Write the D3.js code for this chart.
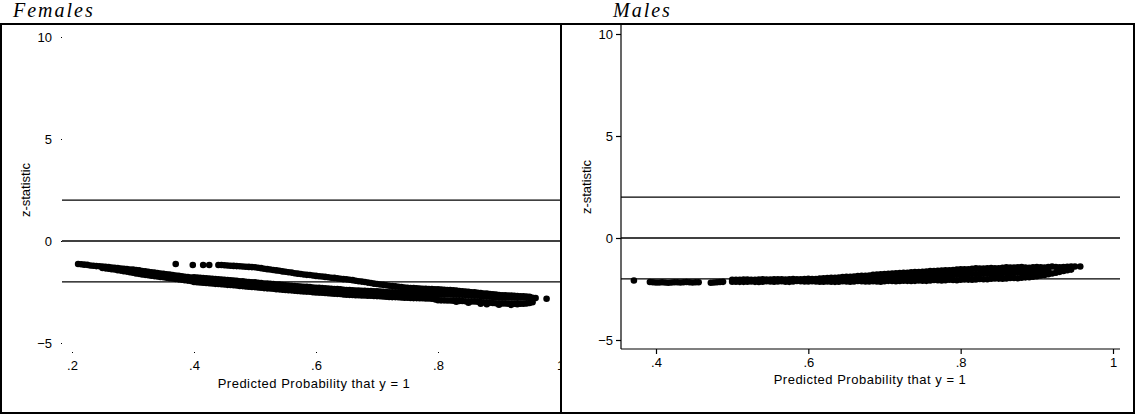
<!DOCTYPE html>
<html>
<head>
<meta charset="utf-8">
<script src="https://cdn.jsdelivr.net/npm/d3@7"></script>
<style>
  body { margin: 0; background: #fff; }
  text { font-family: "Liberation Sans", Arial, sans-serif; }
</style>
</head>
<body>
<script>
const W = 1135;
const H = 416;

// axis ticks and reference lines
const zTicks = [-5, 0, 5, 10];
const refLines = [2, 0, -2];
const femaleTicks = [0.2, 0.4, 0.6, 0.8, 1];
const maleTicks = [0.4, 0.6, 0.8, 1];

// Females: the long lower band, read as a top and a bottom row of dots
const femaleP = [
  .21,.215,.22,.225,.23,.235,.24,.245,.25,.255,
  .26,.265,.27,.275,.28,.285,.29,.295,.30,.305,
  .31,.315,.32,.325,.33,.335,.34,.345,.35,.355,
  .36,.365,.37,.375,.38,.385,.39,.395,.40,.405,
  .41,.415,.42,.425,.43,.435,.44,.445,.45,.455,
  .46,.465,.47,.475,.48,.485,.49,.495,.50,.505,
  .51,.515,.52,.525,.53,.535,.54,.545,.55,.555,
  .56,.565,.57,.575,.58,.585,.59,.595,.60,.605,
  .61,.615,.62,.625,.63,.635,.64,.645,.65,.655,
  .66,.665,.67,.675,.68,.685,.69,.695,.70,.705,
  .71,.715,.72,.725,.73,.735,.74,.745,.75,.755,
  .76,.765,.77,.775,.78,.785,.79,.795,.80,.805,
  .81,.815,.82,.825,.83,.835,.84,.845,.85,.855,
  .86,.865,.87,.875,.88,.885,.89,.895,.90,.905,
  .91,.915,.92,.925,.93,.935,.94,.945,.95,.955,
  .96];
const femaleLowerTop = [
  -1.13,-1.14,-1.16,-1.17,-1.20,-1.21,-1.23,-1.24,-1.25,-1.27,
  -1.28,-1.30,-1.31,-1.33,-1.35,-1.36,-1.38,-1.40,-1.40,-1.42,
  -1.44,-1.47,-1.49,-1.51,-1.53,-1.55,-1.57,-1.59,-1.61,-1.63,
  -1.65,-1.67,-1.69,-1.71,-1.73,-1.75,-1.77,-1.79,-1.78,-1.79,
  -1.80,-1.82,-1.83,-1.84,-1.85,-1.87,-1.88,-1.89,-1.90,-1.92,
  -1.93,-1.94,-1.95,-1.97,-1.98,-2.00,-2.01,-2.02,-2.03,-2.05,
  -2.06,-2.08,-2.09,-2.10,-2.11,-2.13,-2.14,-2.16,-2.17,-2.18,
  -2.19,-2.21,-2.22,-2.23,-2.24,-2.25,-2.26,-2.28,-2.29,-2.30,
  -2.31,-2.32,-2.33,-2.34,-2.35,-2.36,-2.37,-2.39,-2.40,-2.41,
  -2.42,-2.43,-2.43,-2.44,-2.44,-2.45,-2.45,-2.46,-2.47,-2.48,
  -2.49,-2.50,-2.51,-2.52,-2.52,-2.53,-2.54,-2.55,-2.55,-2.56,
  -2.57,-2.57,-2.58,-2.58,-2.59,-2.59,-2.60,-2.60,-2.60,-2.61,
  -2.61,-2.62,-2.62,-2.63,-2.63,-2.64,-2.64,-2.65,-2.65,-2.66,
  -2.67,-2.68,-2.69,-2.70,-2.71,-2.73,-2.74,-2.75,-2.76,-2.76,
  -2.76,-2.77,-2.77,-2.77,-2.76,-2.77,-2.77,-2.77,-2.76,-2.78,
  -2.80];
const femaleLowerBottom = [
  null,null,null,null,null,null,null,null,-1.32,-1.34,
  -1.36,-1.38,-1.40,-1.43,-1.45,-1.48,-1.50,-1.53,-1.56,-1.59,
  -1.61,-1.64,-1.66,-1.68,-1.70,-1.72,-1.74,-1.76,-1.78,-1.80,
  -1.82,-1.84,-1.86,-1.88,-1.90,-1.92,-1.94,-1.96,-2.01,-2.02,
  -2.03,-2.05,-2.06,-2.07,-2.08,-2.10,-2.11,-2.12,-2.13,-2.15,
  -2.16,-2.17,-2.18,-2.20,-2.21,-2.23,-2.24,-2.25,-2.26,-2.28,
  -2.29,-2.31,-2.32,-2.33,-2.34,-2.36,-2.37,-2.39,-2.40,-2.41,
  -2.42,-2.44,-2.45,-2.46,-2.47,-2.48,-2.49,-2.51,-2.52,-2.53,
  -2.54,-2.55,-2.56,-2.57,-2.58,-2.59,-2.60,-2.62,-2.63,-2.64,
  -2.65,-2.66,-2.66,-2.67,-2.67,-2.68,-2.68,-2.69,-2.70,-2.71,
  -2.72,-2.73,-2.74,-2.75,-2.75,-2.76,-2.77,-2.78,-2.78,-2.79,
  -2.80,-2.80,-2.81,-2.81,-2.82,-2.82,-2.83,-2.86,-2.90,-2.91,
  -2.91,-2.92,-2.92,-2.93,-2.93,-2.94,-2.94,-2.95,-2.95,-2.96,
  -2.96,-2.98,-2.99,-3.00,-3.01,-3.03,-3.04,-3.05,-3.06,-3.06,
  -3.06,-3.07,-3.07,-3.07,-3.06,-3.07,-3.07,-3.06,-3.04,-3.00,
  null];
const femaleLowerEdge = [[0.83,-2.98],[0.85,-3.03],[0.87,-3.07],[0.88,-3.10],[0.90,-3.12],[0.92,-3.13],[0.93,-3.10],[0.978,-2.83]];

// Females: the shorter upper band, a few loose dots then a solid run
const femaleUpperLoose = [[0.370,-1.13],[0.398,-1.18],[0.415,-1.18],[0.425,-1.18]];
const femaleUpperP = [
  .44,.445,.45,.455,.46,.465,.47,.475,.48,.485,
  .49,.495,.50,.505,.51,.515,.52,.525,.53,.535,
  .54,.545,.55,.555,.56,.565,.57,.575,.58,.585,
  .59,.595,.60,.605,.61,.615,.62,.625,.63,.635,
  .64,.645,.65,.655,.66,.665,.67,.675,.68,.685,
  .69,.695,.70,.705,.71,.715,.72,.725,.73,.735,
  .74,.745,.75,.755,.76,.765,.77,.775,.78,.785,
  .79,.795,.80,.805,.81,.815,.82,.825,.83,.835,
  .84,.845,.85,.855,.86,.865,.87,.875,.88,.885,
  .89,.895,.90,.905,.91,.915,.92,.925,.93,.935,
  .94,.945,.95];
const femaleUpperZ = [
  -1.18,-1.18,-1.19,-1.20,-1.21,-1.22,-1.23,-1.24,-1.25,-1.26,
  -1.27,-1.28,-1.29,-1.31,-1.33,-1.36,-1.38,-1.40,-1.42,-1.44,
  -1.46,-1.49,-1.51,-1.53,-1.55,-1.58,-1.60,-1.62,-1.64,-1.66,
  -1.67,-1.69,-1.71,-1.73,-1.74,-1.76,-1.78,-1.80,-1.81,-1.83,
  -1.85,-1.87,-1.88,-1.90,-1.92,-1.95,-1.97,-1.99,-2.01,-2.04,
  -2.06,-2.09,-2.11,-2.13,-2.15,-2.17,-2.19,-2.21,-2.22,-2.24,
  -2.26,-2.28,-2.30,-2.31,-2.31,-2.32,-2.33,-2.34,-2.34,-2.35,
  -2.36,-2.37,-2.37,-2.38,-2.39,-2.40,-2.40,-2.42,-2.43,-2.45,
  -2.46,-2.48,-2.49,-2.51,-2.52,-2.54,-2.55,-2.57,-2.58,-2.60,
  -2.61,-2.63,-2.65,-2.66,-2.66,-2.67,-2.68,-2.69,-2.70,-2.71,
  -2.71,-2.72,-2.73];

// Males: sparse on the left, then one band that thickens and rises
const maleLoose = [[0.371,-2.08],[0.957,-1.40]];
const maleLeftP = [.392,.396,.40,.404,.408,.412,.416,.42,.424,.428,.432,.436,.44,.444,.448,.452,.456,.472,.476,.48,.484,.488];
const maleLeftZ = [-2.16,-2.17,-2.18,-2.18,-2.17,-2.18,-2.19,-2.18,-2.17,-2.17,-2.18,-2.17,-2.16,-2.17,-2.18,-2.17,-2.17,-2.19,-2.18,-2.17,-2.16,-2.15];
const maleP = [
  .50,.505,.51,.515,.52,.525,.53,.535,.54,.545,
  .55,.555,.56,.565,.57,.575,.58,.585,.59,.595,
  .60,.605,.61,.615,.62,.625,.63,.635,.64,.645,
  .65,.655,.66,.665,.67,.675,.68,.685,.69,.695,
  .70,.705,.71,.715,.72,.725,.73,.735,.74,.745,
  .75,.755,.76,.765,.77,.775,.78,.785,.79,.795,
  .80,.805,.81,.815,.82,.825,.83,.835,.84,.845,
  .85,.855,.86,.865,.87,.875,.88,.885,.89,.895,
  .90,.905,.91,.915,.92,.925,.93,.935,.94,.945,
  .95];
const maleTop = [
  -2.05,-2.05,-2.05,-2.04,-2.04,-2.05,-2.05,-2.04,-2.03,-2.04,
  -2.04,-2.03,-2.02,-2.03,-2.04,-2.02,-2.01,-2.02,-2.02,-2.01,
  -2.00,-2.01,-2.01,-1.99,-1.97,-1.96,-1.95,-1.95,-1.94,-1.92,
  -1.90,-1.90,-1.89,-1.87,-1.85,-1.85,-1.84,-1.81,-1.79,-1.78,
  -1.77,-1.75,-1.74,-1.73,-1.72,-1.71,-1.70,-1.68,-1.67,-1.67,
  -1.66,-1.64,-1.62,-1.62,-1.61,-1.59,-1.58,-1.58,-1.57,-1.55,
  -1.53,-1.53,-1.53,-1.51,-1.49,-1.50,-1.50,-1.48,-1.47,-1.48,
  -1.48,-1.46,-1.44,-1.45,-1.45,-1.44,-1.43,-1.45,-1.46,-1.44,
  -1.42,-1.44,-1.45,-1.42,-1.40,-1.42,-1.44,-1.42,-1.41,-1.40,
  -1.40];
const maleBottom = [
  -2.14,-2.14,-2.15,-2.15,-2.14,-2.13,-2.15,-2.16,-2.14,-2.12,
  -2.13,-2.14,-2.13,-2.12,-2.14,-2.15,-2.13,-2.11,-2.12,-2.13,
  -2.13,-2.12,-2.13,-2.14,-2.14,-2.13,-2.14,-2.15,-2.14,-2.12,
  -2.13,-2.14,-2.13,-2.11,-2.12,-2.13,-2.13,-2.12,-2.13,-2.14,
  -2.12,-2.10,-2.11,-2.12,-2.11,-2.09,-2.10,-2.11,-2.10,-2.08,
  -2.09,-2.10,-2.08,-2.06,-2.07,-2.08,-2.07,-2.05,-2.06,-2.07,
  -2.05,-2.03,-2.04,-2.05,-2.03,-2.01,-2.02,-2.02,-2.00,-1.98,
  -1.99,-2.00,-1.98,-1.96,-1.96,-1.97,-1.95,-1.93,-1.92,-1.90,
  -1.87,-1.84,-1.81,-1.78,-1.74,-1.70,-1.66,-1.62,-1.58,-1.55,
  null];
const maleMid = [
  null,null,null,null,null,null,null,null,null,null,
  null,null,null,null,null,null,null,null,null,null,
  null,null,null,null,null,null,null,null,-2.04,-2.03,
  -2.02,-2.02,-2.01,-2.00,-1.99,-1.99,-1.98,-1.97,-1.96,-1.96,
  -1.95,-1.94,-1.93,-1.93,-1.92,-1.91,-1.90,-1.90,-1.89,-1.88,
  -1.87,-1.87,-1.86,-1.85,-1.84,-1.83,-1.82,-1.82,-1.81,-1.80,
  -1.79,-1.79,-1.78,-1.77,-1.77,-1.76,-1.75,-1.75,-1.74,-1.73,
  -1.73,-1.72,-1.71,-1.71,-1.70,-1.69,-1.69,-1.68,-1.67,-1.66,
  -1.64,-1.62,-1.60,-1.58,null,null,null,null,null,null,
  null];

function zip(ps, zs) {
  return ps.map((p, i) => [p, zs[i]]).filter(d => d[1] != null);
}

const femalePoints = [].concat(
  zip(femaleP, femaleLowerTop),
  zip(femaleP, femaleLowerBottom),
  femaleLowerEdge,
  femaleUpperLoose,
  zip(femaleUpperP, femaleUpperZ)
);
const malePoints = [].concat(
  maleLoose,
  zip(maleLeftP, maleLeftZ),
  zip(maleP, maleTop),
  zip(maleP, maleBottom),
  zip(maleP, maleMid)
);

const probFmt = d => d === 1 ? "1" : String(d).replace("0.", ".");
const R = 3.3;
const SERIF = "'Liberation Serif', 'Times New Roman', serif";
const SANS = "'Liberation Sans', Arial, sans-serif";

const svg = d3.select("body").append("svg")
  .attr("width", W)
  .attr("height", H);

svg.append("rect").attr("width", W).attr("height", H).attr("fill", "#fff");

// panel titles
svg.selectAll(".title")
  .data([{ t: "Females", x: 13 }, { t: "Males", x: 613 }])
  .enter().append("text")
  .attr("x", d => d.x).attr("y", 17)
  .style("font-family", SERIF).style("font-style", "italic")
  .style("font-size", "20px").style("letter-spacing", "2px")
  .text(d => d.t);

// ---- Females panel (axis lines are missing, ticks show as dots) ----
const xF = d3.scaleLinear().domain([0.2, 1]).range([72, 560]);
const yF = d3.scaleLinear().domain([-5, 10]).range([343, 37]);

svg.append("clipPath").attr("id", "clipF")
  .append("rect").attr("x", 2).attr("y", 25).attr("width", 559).attr("height", 387);

const gF = svg.append("g").attr("clip-path", "url(#clipF)");

const axFy = gF.append("g").attr("transform", "translate(62,0)")
  .call(d3.axisLeft(yF).tickValues(zTicks).tickSize(1).tickPadding(9));
const axFx = gF.append("g").attr("transform", "translate(0,352)")
  .call(d3.axisBottom(xF).tickValues(femaleTicks).tickSize(1).tickPadding(8).tickFormat(probFmt));
[axFy, axFx].forEach(a => {
  a.select(".domain").remove();
  a.selectAll("text").style("font-size", "13px").style("font-family", SANS);
});

gF.selectAll(".ref").data(refLines).enter().append("line")
  .attr("x1", 62).attr("x2", 561)
  .attr("y1", d => yF(d)).attr("y2", d => yF(d))
  .attr("stroke", "#000").attr("stroke-width", 1.3);

gF.selectAll(".pt").data(femalePoints).enter().append("circle")
  .attr("cx", d => xF(d[0])).attr("cy", d => yF(d[1]))
  .attr("r", R).attr("fill", "#000");

gF.append("text").attr("x", 314).attr("y", 388).attr("text-anchor", "middle")
  .style("font-size", "13px").style("letter-spacing", "0.5px")
  .text("Predicted Probability that y = 1");
gF.append("text").attr("transform", "translate(30,190) rotate(-90)").attr("text-anchor", "middle")
  .style("font-size", "13px").text("z-statistic");

// ---- Males panel ----
const xM = d3.scaleLinear().domain([0.4, 1]).range([656, 1113]);
const yM = d3.scaleLinear().domain([-5, 10]).range([340, 34]);

const gM = svg.append("g");

const axMy = gM.append("g").attr("transform", "translate(621,0)")
  .call(d3.axisLeft(yM).tickValues(zTicks).tickSize(5).tickPadding(3));
const axMx = gM.append("g").attr("transform", "translate(0,349)")
  .call(d3.axisBottom(xM).tickValues(maleTicks).tickSize(5).tickPadding(4).tickFormat(probFmt));
[axMy, axMx].forEach(a => {
  a.select(".domain").remove();
  a.selectAll("line").attr("stroke-width", 1.2);
  a.selectAll("text").style("font-size", "13px").style("font-family", SANS);
});
gM.append("line").attr("x1", 621).attr("x2", 621).attr("y1", 25).attr("y2", 349)
  .attr("stroke", "#000").attr("stroke-width", 1.2);
gM.append("line").attr("x1", 621).attr("x2", 1120).attr("y1", 349).attr("y2", 349)
  .attr("stroke", "#000").attr("stroke-width", 1.2);

gM.selectAll(".ref").data(refLines).enter().append("line")
  .attr("x1", 621).attr("x2", 1120)
  .attr("y1", d => yM(d)).attr("y2", d => yM(d))
  .attr("stroke", "#000").attr("stroke-width", 1.3);

gM.selectAll(".pt").data(malePoints).enter().append("circle")
  .attr("cx", d => xM(d[0])).attr("cy", d => yM(d[1]))
  .attr("r", R).attr("fill", "#000");

gM.append("text").attr("x", 870).attr("y", 384).attr("text-anchor", "middle")
  .style("font-size", "13px").style("letter-spacing", "0.5px")
  .text("Predicted Probability that y = 1");
gM.append("text").attr("transform", "translate(591,187) rotate(-90)").attr("text-anchor", "middle")
  .style("font-size", "13px").text("z-statistic");

// ---- outer frame and divider ----
svg.append("rect").attr("x", 1).attr("y", 24).attr("width", 1133).attr("height", 389)
  .attr("fill", "none").attr("stroke", "#000").attr("stroke-width", 2);
svg.append("line").attr("x1", 561).attr("x2", 561).attr("y1", 24).attr("y2", 413)
  .attr("stroke", "#000").attr("stroke-width", 2);
</script>
</body>
</html>
